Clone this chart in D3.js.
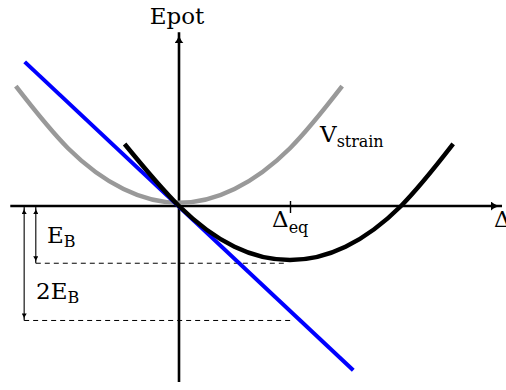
<!DOCTYPE html>
<html>
<head>
<meta charset="utf-8">
<script src="https://cdn.jsdelivr.net/npm/d3@7/dist/d3.min.js"></script>
<style>
  html, body { margin: 0; padding: 0; background: #fff; }
  svg { display: block; }
</style>
</head>
<body>
<svg id="chart" width="506" height="390"></svg>
<script>
// Energy diagram: strain parabola, shifted total-energy parabola and tangent line.
const deltaEq = 1.0;          // equilibrium displacement
const EB = 1.08;              // binding energy depth

// V_strain (grey) — points along the curve (Δ, E)
const strainDelta = [-1.47, -1.0, -0.5, 0.0, 0.5, 1.0, 1.47];
const strainE     = [ 2.26, 1.09, 0.32, 0.06, 0.32, 1.09, 2.26];

// total energy (black) — points along the curve (Δ, E)
const totalDelta = [-0.49, 0.0, 0.5, 1.0, 1.5, 2.0, 2.47];
const totalE     = [ 1.17, 0.0, -0.77, -1.02, -0.77, 0.0, 1.17];

// linear coupling term (blue) — end points (Δ, E)
const lineDelta = [-1.39, 1.57];
const lineE     = [ 2.72, -3.10];

// axis extents
const deltaExtent = [-1.52, 2.91];
const energyExtent = [-3.32, 3.28];

const FONT = "DejaVu Serif";

const svg = d3.select("#chart");

const x = d3.scaleLinear().domain([0, 1]).range([179, 290]);
const y = d3.scaleLinear().domain([0, 1]).range([206, 153]);

const defs = svg.append("defs");
function arrowMarker(id, len, half) {
  defs.append("marker")
    .attr("id", id)
    .attr("markerUnits", "userSpaceOnUse")
    .attr("viewBox", `0 ${-half} ${len} ${2 * half}`)
    .attr("refX", len).attr("refY", 0)
    .attr("markerWidth", len).attr("markerHeight", 2 * half)
    .attr("orient", "auto-start-reverse")
    .append("path")
    .attr("d", `M0,${-half} Q${len * 0.45},0 ${len},0 Q${len * 0.45},0 0,${half} Z`)
    .attr("fill", "#000");
}
arrowMarker("axisHead", 11, 4.5);
arrowMarker("smallHead", 7, 2.6);

const zip = (a, b) => a.map((v, i) => [v, b[i]]);
const line = d3.line().x(d => x(d[0])).y(d => y(d[1])).curve(d3.curveNatural);

// axes
svg.append("line")
  .attr("x1", x(deltaExtent[0])).attr("y1", y(0))
  .attr("x2", x(deltaExtent[1])).attr("y2", y(0))
  .attr("stroke", "#000").attr("stroke-width", 2.6)
  .attr("marker-end", "url(#axisHead)");
svg.append("line")
  .attr("x1", x(0)).attr("y1", y(energyExtent[0]))
  .attr("x2", x(0)).attr("y2", y(energyExtent[1]))
  .attr("stroke", "#000").attr("stroke-width", 2.6)
  .attr("marker-end", "url(#axisHead)");

// Δeq tick via a D3 axis
const tickAxis = d3.axisBottom(x).tickValues([deltaEq]).tickSizeInner(6).tickSizeOuter(0).tickFormat("");
const tg = svg.append("g").attr("transform", `translate(0,${y(0)})`).call(tickAxis);
tg.select(".domain").remove();
tg.selectAll(".tick line").attr("y1", -5).attr("y2", 7).attr("stroke", "#000").attr("stroke-width", 1.4);

// dashed energy levels
const levels = [
  { e: -EB, d0: -1.29, d1: 0.98 },
  { e: -2 * EB, d0: -1.395, d1: 1.03 }
];
svg.selectAll(".level").data(levels).join("line")
  .attr("class", "level")
  .attr("x1", d => x(d.d0)).attr("x2", d => x(d.d1))
  .attr("y1", d => y(d.e)).attr("y2", d => y(d.e))
  .attr("stroke", "#000").attr("stroke-width", 1)
  .attr("stroke-dasharray", "5,4");

// double arrows
svg.selectAll(".span").data(levels).join("line")
  .attr("class", "span")
  .attr("x1", d => x(d.d0)).attr("x2", d => x(d.d0))
  .attr("y1", y(0) + 1).attr("y2", d => y(d.e))
  .attr("stroke", "#000").attr("stroke-width", 1.1)
  .attr("marker-start", "url(#smallHead)")
  .attr("marker-end", "url(#smallHead)");

// curves
svg.append("path").attr("d", line(zip(strainDelta, strainE)))
  .attr("fill", "none").attr("stroke", "#999999").attr("stroke-width", 4.5);
svg.append("path").attr("d", d3.line().x(d => x(d[0])).y(d => y(d[1]))(zip(lineDelta, lineE)))
  .attr("fill", "none").attr("stroke", "#0000ff").attr("stroke-width", 4);
svg.append("path").attr("d", line(zip(totalDelta, totalE)))
  .attr("fill", "none").attr("stroke", "#000").attr("stroke-width", 4.5);

// labels
function label(px, py, main, sub, size, subSize, subDy, subLen) {
  const t = svg.append("text").attr("x", px).attr("y", py)
    .attr("font-family", FONT)
    .attr("font-size", size).attr("fill", "#000");
  t.append("tspan").text(main);
  if (sub) {
    const s = t.append("tspan").attr("dy", subDy).attr("font-size", subSize).text(sub);
    if (subLen) s.attr("textLength", subLen).attr("lengthAdjust", "spacing");
  }
  return t;
}
label(x(0) - 2, 24, "Epot", null, 23).attr("text-anchor", "middle");
label(320, 142, "V", "strain", 23, 16, 5, 47);
label(272, 227, "Δ", "eq", 23, 16, 6);
label(494, 227, "Δ", null, 23);
label(47, 243, "E", "B", 23, 16, 4);
label(36, 299, "2E", "B", 23, 16, 4);
</script>
</body>
</html>
